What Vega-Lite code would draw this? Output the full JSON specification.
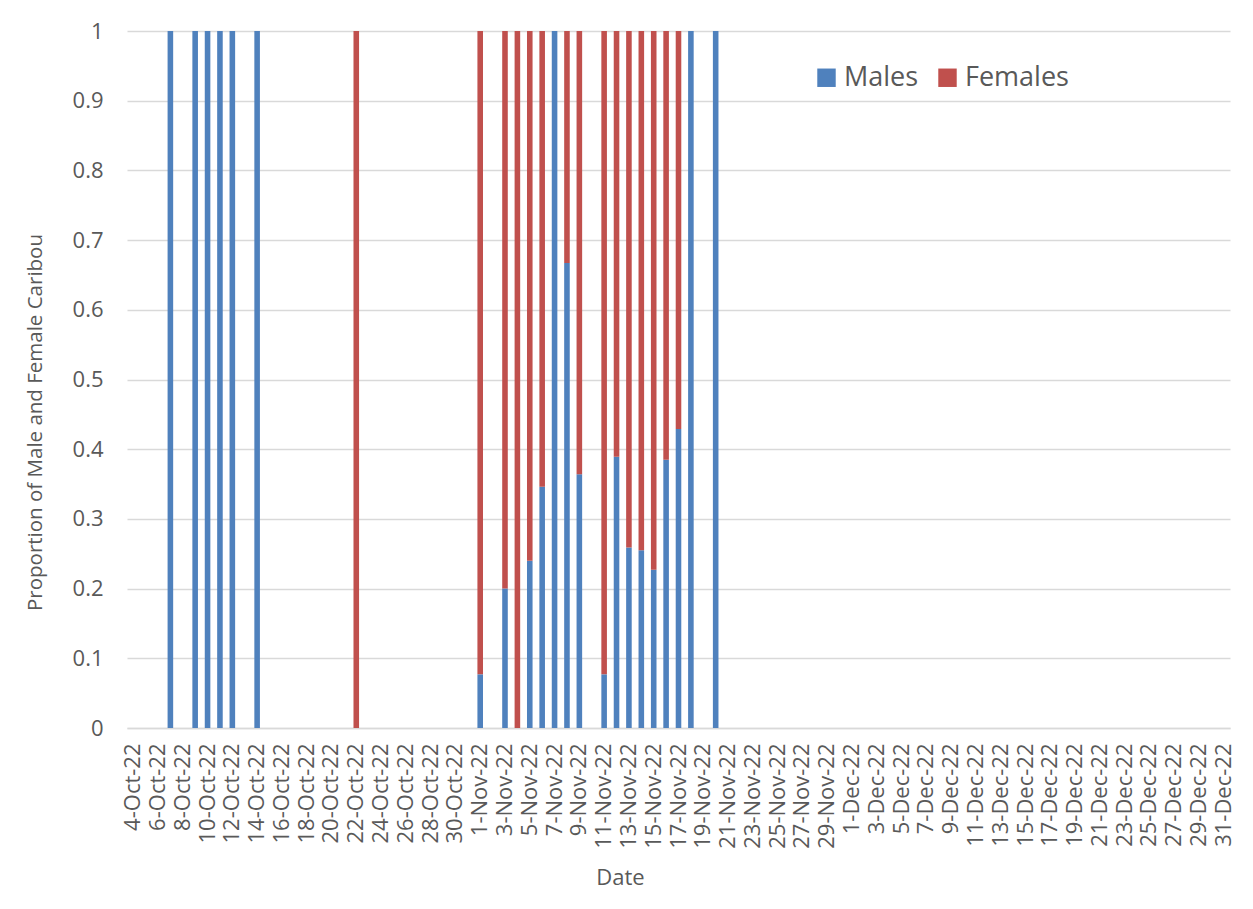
{
  "$schema": "https://vega.github.io/schema/vega-lite/v6.json",
  "width": 1103,
  "height": 697,
  "autosize": {"type": "none"},
  "padding": {"left": 127, "top": 31, "right": 23, "bottom": 181},
  "background": "white",
  "config": {
    "font": "Open Sans",
    "view": {"stroke": null}
  },
  "data": {
    "values": [
      {"date": "7-Oct-22", "Males": 1, "Females": 0},
      {"date": "9-Oct-22", "Males": 1, "Females": 0},
      {"date": "10-Oct-22", "Males": 1, "Females": 0},
      {"date": "11-Oct-22", "Males": 1, "Females": 0},
      {"date": "12-Oct-22", "Males": 1, "Females": 0},
      {"date": "14-Oct-22", "Males": 1, "Females": 0},
      {"date": "22-Oct-22", "Males": 0, "Females": 1},
      {"date": "1-Nov-22", "Males": 0.077, "Females": 0.923},
      {"date": "3-Nov-22", "Males": 0.2, "Females": 0.8},
      {"date": "4-Nov-22", "Males": 0, "Females": 1},
      {"date": "5-Nov-22", "Males": 0.24, "Females": 0.76},
      {"date": "6-Nov-22", "Males": 0.346, "Females": 0.654},
      {"date": "7-Nov-22", "Males": 1, "Females": 0},
      {"date": "8-Nov-22", "Males": 0.667, "Females": 0.333},
      {"date": "9-Nov-22", "Males": 0.364, "Females": 0.636},
      {"date": "11-Nov-22", "Males": 0.077, "Females": 0.923},
      {"date": "12-Nov-22", "Males": 0.389, "Females": 0.611},
      {"date": "13-Nov-22", "Males": 0.259, "Females": 0.741},
      {"date": "14-Nov-22", "Males": 0.255, "Females": 0.745},
      {"date": "15-Nov-22", "Males": 0.227, "Females": 0.773},
      {"date": "16-Nov-22", "Males": 0.385, "Females": 0.615},
      {"date": "17-Nov-22", "Males": 0.429, "Females": 0.571},
      {"date": "18-Nov-22", "Males": 1, "Females": 0},
      {"date": "20-Nov-22", "Males": 1, "Females": 0}
    ]
  },
  "transform": [
    {"fold": ["Males", "Females"], "as": ["sex", "proportion"]}
  ],
  "mark": {"type": "bar"},
  "encoding": {
    "x": {
      "field": "date",
      "type": "ordinal",
      "title": "Date",
      "scale": {
        "paddingInner": 0.55,
        "paddingOuter": 0.275,
        "domain": ["4-Oct-22","5-Oct-22","6-Oct-22","7-Oct-22","8-Oct-22","9-Oct-22","10-Oct-22","11-Oct-22","12-Oct-22","13-Oct-22","14-Oct-22","15-Oct-22","16-Oct-22","17-Oct-22","18-Oct-22","19-Oct-22","20-Oct-22","21-Oct-22","22-Oct-22","23-Oct-22","24-Oct-22","25-Oct-22","26-Oct-22","27-Oct-22","28-Oct-22","29-Oct-22","30-Oct-22","31-Oct-22","1-Nov-22","2-Nov-22","3-Nov-22","4-Nov-22","5-Nov-22","6-Nov-22","7-Nov-22","8-Nov-22","9-Nov-22","10-Nov-22","11-Nov-22","12-Nov-22","13-Nov-22","14-Nov-22","15-Nov-22","16-Nov-22","17-Nov-22","18-Nov-22","19-Nov-22","20-Nov-22","21-Nov-22","22-Nov-22","23-Nov-22","24-Nov-22","25-Nov-22","26-Nov-22","27-Nov-22","28-Nov-22","29-Nov-22","30-Nov-22","1-Dec-22","2-Dec-22","3-Dec-22","4-Dec-22","5-Dec-22","6-Dec-22","7-Dec-22","8-Dec-22","9-Dec-22","10-Dec-22","11-Dec-22","12-Dec-22","13-Dec-22","14-Dec-22","15-Dec-22","16-Dec-22","17-Dec-22","18-Dec-22","19-Dec-22","20-Dec-22","21-Dec-22","22-Dec-22","23-Dec-22","24-Dec-22","25-Dec-22","26-Dec-22","27-Dec-22","28-Dec-22","29-Dec-22","30-Dec-22","31-Dec-22"]
      },
      "axis": {
        "labelExpr": "round(datum.index * 88) % 2 == 0 ? datum.label : ''",
        "labelAngle": -90,
        "labelAlign": "right",
        "labelBaseline": "middle",
        "labelFontSize": 22,
        "labelColor": "#595959",
        "labelPadding": 15,
        "labelOverlap": false,
        "ticks": false,
        "domainColor": "#D9D9D9",
        "domainWidth": 1.5,
        "grid": false,
        "titleFontSize": 22,
        "titleFontWeight": "normal",
        "titleColor": "#595959",
        "titlePadding": 19,
        "titleX": 493
      }
    },
    "y": {
      "field": "proportion",
      "type": "quantitative",
      "stack": "zero",
      "title": "Proportion of Male and Female Caribou",
      "scale": {"domain": [0, 1], "nice": false},
      "axis": {
        "values": [0, 0.1, 0.2, 0.3, 0.4, 0.5, 0.6, 0.7, 0.8, 0.9, 1],
        "format": "~g",
        "labelFontSize": 22,
        "labelColor": "#595959",
        "labelPadding": 24,
        "ticks": false,
        "domain": false,
        "gridColor": "#D9D9D9",
        "gridWidth": 1.5,
        "titleFontSize": 20.5,
        "titleFontWeight": "normal",
        "titleColor": "#595959",
        "titlePadding": 27,
        "titleY": 391
      }
    },
    "color": {
      "field": "sex",
      "type": "nominal",
      "scale": {"domain": ["Males", "Females"], "range": ["#4F81BD", "#C0504D"]},
      "legend": {
        "title": null,
        "orient": "none",
        "direction": "horizontal",
        "legendX": 686,
        "legendY": 33,
        "symbolType": "square",
        "symbolSize": 340,
        "symbolStrokeWidth": 0,
        "labelFontSize": 27,
        "labelColor": "#595959",
        "labelOffset": 4,
        "columnPadding": 15,
        "padding": 0
      }
    },
    "order": {"field": "sex", "sort": "descending"}
  }
}
